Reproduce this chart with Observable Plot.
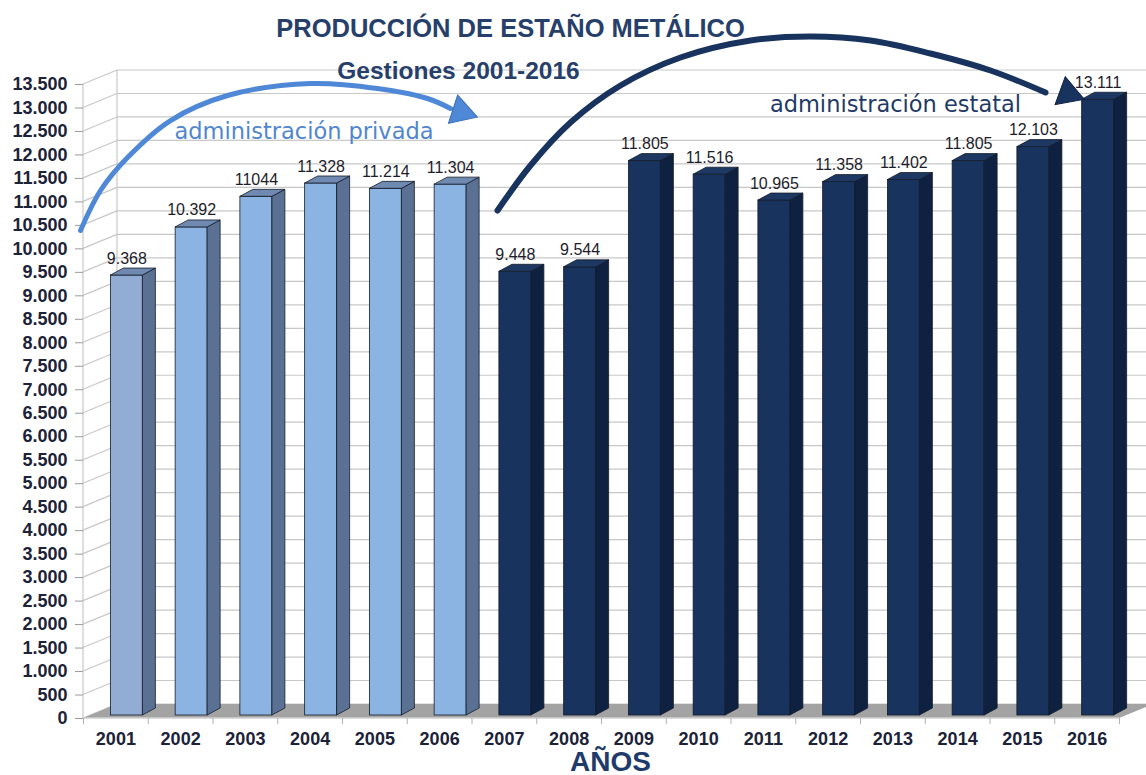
<!DOCTYPE html>
<html>
<head>
<meta charset="utf-8">
<script src="https://cdn.jsdelivr.net/npm/d3@7"></script>
<script src="https://cdn.jsdelivr.net/npm/@observablehq/plot@0.6"></script>
<style>
  html, body { margin: 0; padding: 0; background: #ffffff; }
  #chart svg { display: block; }
</style>
</head>
<body>
<div id="chart"></div>
<script>
// ---------------- data ----------------
const years = ["2001","2002","2003","2004","2005","2006","2007","2008","2009","2010","2011","2012","2013","2014","2015","2016"];
const production = [9368, 10392, 11044, 11328, 11214, 11304, 9448, 9544, 11805, 11516, 10965, 11358, 11402, 11805, 12103, 13111];
const valueLabels = ["9.368","10.392","11044","11.328","11.214","11.304","9.448","9.544","11.805","11.516","10.965","11.358","11.402","11.805","12.103","13.111"];
const management = ["privada","privada","privada","privada","privada","privada","estatal","estatal","estatal","estatal","estatal","estatal","estatal","estatal","estatal","estatal"];
const yTickValues = [0,500,1000,1500,2000,2500,3000,3500,4000,4500,5000,5500,6000,6500,7000,7500,8000,8500,9000,9500,10000,10500,11000,11500,12000,12500,13000,13500];

const titleText = "PRODUCCIÓN DE ESTAÑO METÁLICO";
const subtitleText = "Gestiones 2001-2016";
const xAxisTitle = "AÑOS";

// annotation arcs (x = year index, y = tonnes)
const privadaArcX = [-0.546, -0.237, 0.180, 0.844, 1.724, 3.006, 4.041, 4.813, 5.168];
const privadaArcY = [10391, 11243, 11945, 12733, 13266, 13521, 13415, 13202, 12989];
const estatalArcX = [5.894, 6.403, 7.021, 7.793, 8.720, 9.801, 10.728, 11.654, 12.581, 13.508, 14.357];
const estatalArcY = [10817, 11775, 12691, 13479, 14075, 14437, 14522, 14437, 14160, 13798, 13330];
const arrowHeads = [
  {x: 5.333, y: 12918, angle: 108, group: "privada"},
  {x: 14.708, y: 13308, angle: 110, group: "estatal"}
];
const annotations = [
  {x: 2.905, y: 12350, text: "administración privada", group: "privada"},
  {x: 12.04, y: 12904, text: "administración estatal", group: "estatal"}
];

// ---------------- styles ----------------
const W = 1146, H = 775;
const WALL = [34, -14];       // 3D depth of the walls (px)
const BAR_DEPTH = [13, -7];   // 3D depth of the bars (px)
const BAR_LIFT = -3;
const BAR_OFFSET = 0.17, BAR_HALF = 0.247;
const GRID = "#c8c8c8";
const colors = {
  privada: {front: "#8cb4e3", side: "#5a7194", top: "#6f89b0", line: "#4f88d6"},
  estatal: {front: "#17335e", side: "#0e2141", top: "#1d3862", line: "#17335e"}
};
const firstFront = "#92acd3";

const bars = years.map((year, i) => ({i, year, value: production[i], label: valueLabels[i], group: management[i]}));
const privadaArc = privadaArcX.map((x, k) => ({x, y: privadaArcY[k]}));
const estatalArc = estatalArcX.map((x, k) => ({x, y: estatalArcY[k]}));

// walls and floor
function walls(index, scales) {
  const {x, y} = scales;
  const g = d3.create("svg:g");
  const xa = x(-0.5), xb = x(15.5), y0 = y(0), yt = y(13500);
  const [dx, dy] = WALL;
  for (const v of yTickValues) {
    const yy = y(v);
    g.append("line").attr("x1", xa + dx).attr("x2", W).attr("y1", yy + dy).attr("y2", yy + dy)
      .attr("stroke", GRID).attr("stroke-width", 1.2);
    g.append("line").attr("x1", xa).attr("x2", xa + dx).attr("y1", yy).attr("y2", yy + dy)
      .attr("stroke", GRID).attr("stroke-width", 1.2);
  }
  g.append("line").attr("x1", xa).attr("x2", xa).attr("y1", y0).attr("y2", yt).attr("stroke", GRID).attr("stroke-width", 1.2);
  g.append("line").attr("x1", xa + dx).attr("x2", xa + dx).attr("y1", y0 + dy).attr("y2", yt + dy).attr("stroke", GRID).attr("stroke-width", 1.2);
  g.append("polygon")
    .attr("points", [[xa, y0], [xb, y0], [xb + dx, y0 + dy], [xa + dx, y0 + dy]].map(p => p.join(",")).join(" "))
    .attr("fill", "#a3a3a3");
  g.append("line").attr("x1", xa).attr("x2", xb).attr("y1", y0).attr("y2", y0).attr("stroke", "#d0d0d0").attr("stroke-width", 1.5);
  return g.node();
}

// side and top faces of the bars
function barDepth(index, scales) {
  const {x, y} = scales;
  const g = d3.create("svg:g").attr("stroke", "#141c2b").attr("stroke-width", 0.8).attr("stroke-linejoin", "round");
  const [ddx, ddy] = BAR_DEPTH;
  for (const d of bars) {
    const X1 = x(d.i + BAR_OFFSET - BAR_HALF), X2 = x(d.i + BAR_OFFSET + BAR_HALF);
    const Y0 = y(0) + BAR_LIFT, Yv = y(d.value) + BAR_LIFT;
    const c = colors[d.group];
    g.append("polygon")
      .attr("points", [[X2, Y0], [X2 + ddx, Y0 + ddy], [X2 + ddx, Yv + ddy], [X2, Yv]].map(p => p.join(",")).join(" "))
      .attr("fill", c.side);
    g.append("polygon")
      .attr("points", [[X1, Yv], [X2, Yv], [X2 + ddx, Yv + ddy], [X1 + ddx, Yv + ddy]].map(p => p.join(",")).join(" "))
      .attr("fill", c.top);
  }
  return g.node();
}

const thousands = d => d3.format(",")(d).replace(/,/g, ".");

const chart = Plot.plot({
  width: W,
  height: H,
  marginLeft: 83,
  marginRight: 27,
  marginTop: 84,
  marginBottom: 57,
  style: {fontFamily: "'Liberation Sans', Arial, sans-serif", background: "#ffffff", color: "#1c2237", overflow: "visible"},
  x: {domain: [-0.5, 15.5], axis: null},
  y: {domain: [0, 13500], axis: null},
  color: {type: "identity"},
  marks: [
    walls,
    Plot.rect(bars, {
      x1: d => d.i + BAR_OFFSET - BAR_HALF,
      x2: d => d.i + BAR_OFFSET + BAR_HALF,
      y1: 0,
      y2: "value",
      dy: BAR_LIFT,
      fill: d => d.i === 0 ? firstFront : colors[d.group].front,
      stroke: "#141c2b",
      strokeWidth: 0.8
    }),
    barDepth,
    Plot.text(bars, {
      x: d => d.i + BAR_OFFSET,
      y: "value",
      text: "label",
      dy: -15,
      lineAnchor: "bottom",
      fontSize: 16,
      fontFamily: "'Liberation Sans', Arial, sans-serif",
      fill: "#1d1d2b"
    }),
    Plot.axisY(yTickValues, {
      tickSize: 8, tickPadding: 8, tickFormat: thousands,
      fontSize: 18, fontWeight: "bold", stroke: "#9a9a9a", fill: "#1c2237", label: null
    }),
    Plot.axisX(d3.range(17).map(i => i - 0.5), {
      tickSize: 6, tickFormat: () => "", stroke: "#b0b0b0", label: null
    }),
    Plot.axisX(d3.range(16), {
      tickSize: 0, tickPadding: 14, tickFormat: i => years[i],
      fontSize: 18, fontWeight: "bold", fill: "#1c2237", label: null
    }),
    Plot.line(privadaArc, {x: "x", y: "y", curve: "catmull-rom", stroke: colors.privada.line, strokeWidth: 5}),
    Plot.line(estatalArc, {x: "x", y: "y", curve: "catmull-rom", stroke: colors.estatal.line, strokeWidth: 6}),
    Plot.dot(arrowHeads, {
      x: "x", y: "y", symbol: "triangle", r: 11, rotate: "angle",
      fill: d => colors[d.group].line, stroke: d => d.group === "privada" ? "#3a6fb8" : "#0e2141", strokeWidth: 1
    }),
    Plot.text(annotations.filter(d => d.group === "privada"), {
      x: "x", y: "y", text: "text", lineAnchor: "bottom",
      fontSize: 22.5, fontFamily: "'DejaVu Sans', sans-serif", fill: "#4f86cf"
    }),
    Plot.text(annotations.filter(d => d.group === "estatal"), {
      x: "x", y: "y", text: "text", lineAnchor: "bottom",
      fontSize: 22.5, fontFamily: "'DejaVu Sans', sans-serif", fill: "#1f3a66"
    }),
    Plot.text([titleText], {
      frameAnchor: "top", dx: -91, dy: -47.5, lineAnchor: "bottom",
      fontSize: 25.5, fontWeight: "bold", fill: "#27406b"
    }),
    Plot.text([subtitleText], {
      frameAnchor: "top", dx: -143, dy: -6, lineAnchor: "bottom",
      fontSize: 24.5, fontWeight: "bold", fill: "#27406b"
    }),
    Plot.text([xAxisTitle], {
      frameAnchor: "bottom", dx: 9, dy: 52, lineAnchor: "bottom",
      fontSize: 28, fontWeight: "bold", fill: "#1f3b6b"
    })
  ]
});
document.getElementById("chart").appendChild(chart);
</script>
</body>
</html>
